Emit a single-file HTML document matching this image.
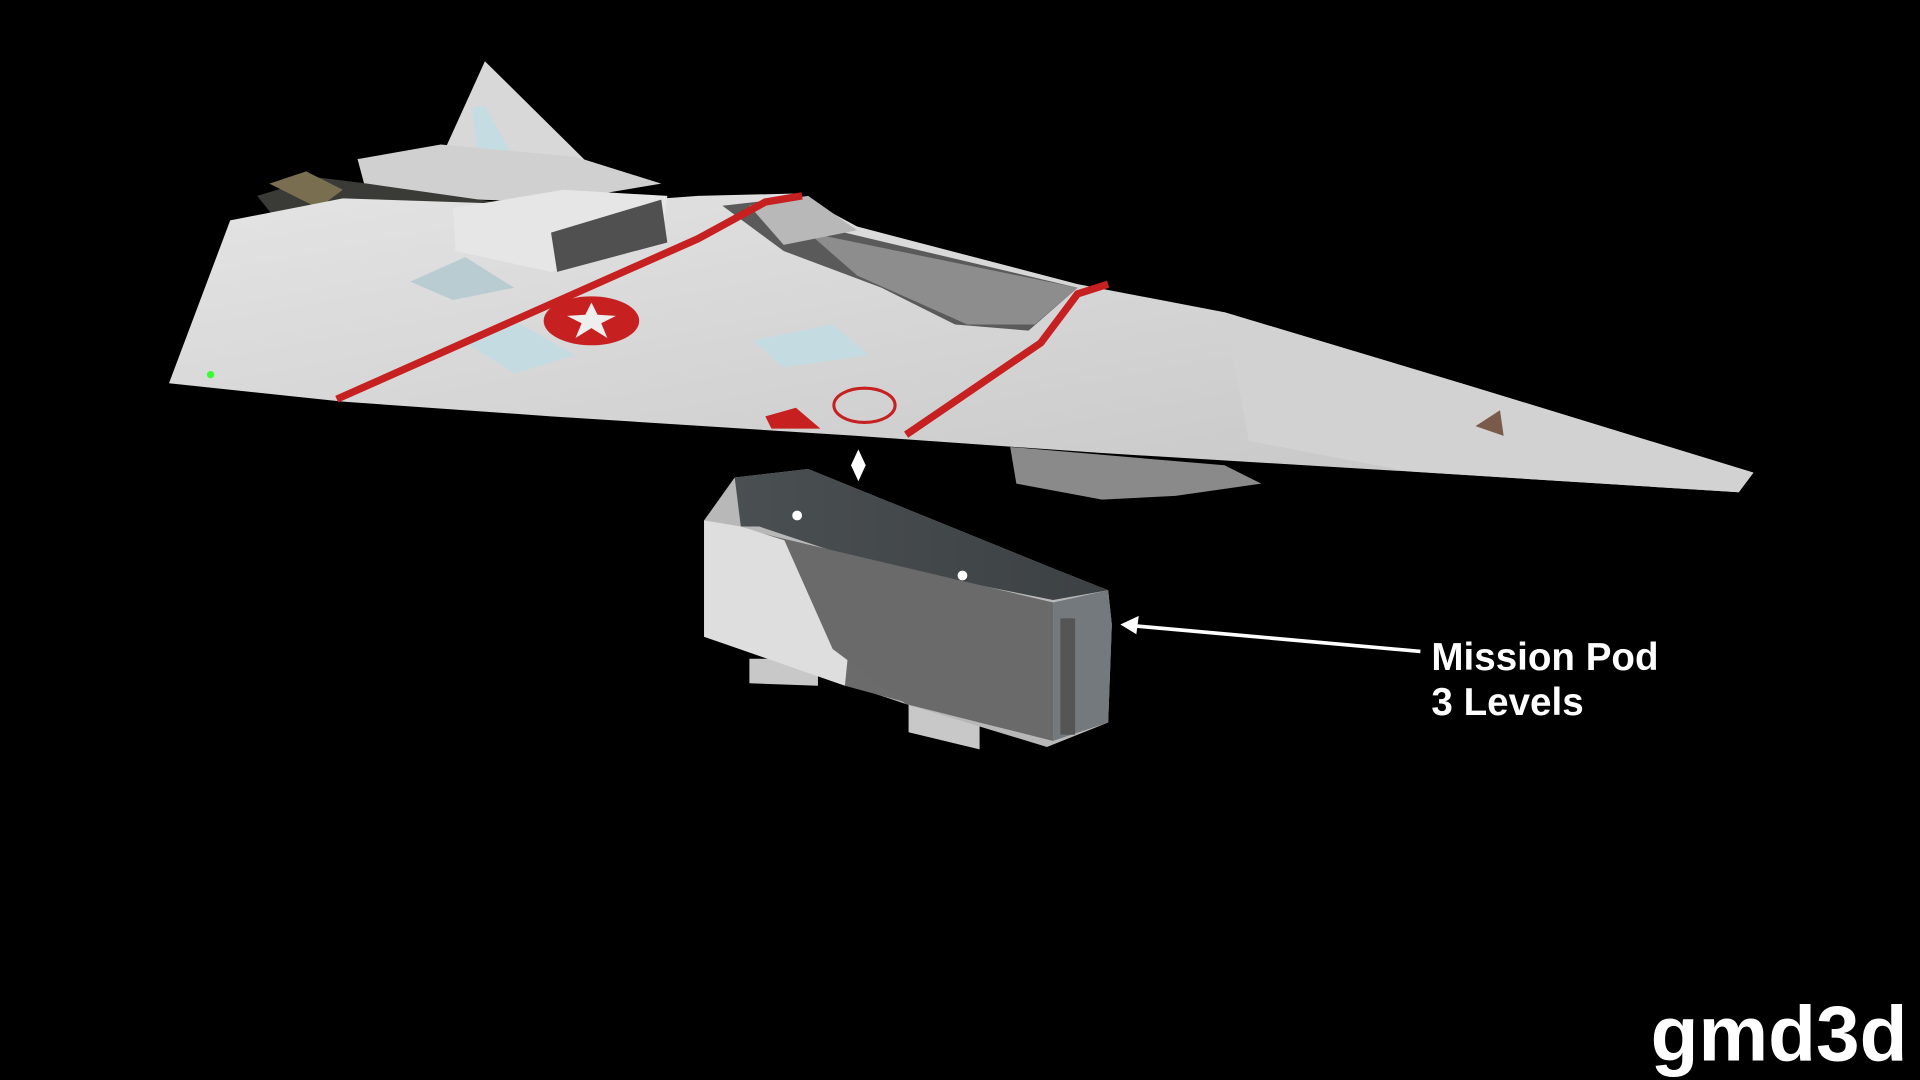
<!DOCTYPE html>
<html><head><meta charset="utf-8"><style>
html,body{margin:0;padding:0;background:#000;width:1920px;height:1080px;overflow:hidden}
svg{display:block}
text{font-family:"Liberation Sans",Arial,sans-serif;font-weight:bold;fill:#fff}
</style></head><body>
<svg width="1920" height="1080" viewBox="0 0 1568 882" xmlns="http://www.w3.org/2000/svg">
<defs>
<linearGradient id="g1" x1="0" y1="0" x2="1" y2="1"><stop offset="0" stop-color="#e4e4e4"/><stop offset="1" stop-color="#c4c4c4"/></linearGradient>
<linearGradient id="pt" x1="0" y1="0" x2="1" y2="0"><stop offset="0" stop-color="#4a4f52"/><stop offset="1" stop-color="#3c4144"/></linearGradient>
</defs>
<rect width="1568" height="882" fill="#000"/>
<polygon points="825,365 1000,380 1030,395 960,405 900,408 830,395" fill="#8a8a8a"/>
<polygon points="362,125 396,50 480,133 440,140" fill="#d8d8d8"/>
<polygon points="386,88 396,86 420,130 390,130" fill="#c5dce3"/>
<line x1="365" y1="124" x2="390" y2="124" stroke="#c02020" stroke-width="2"/>
<polygon points="292,130 360,118 470,128 540,150 450,165 300,160" fill="#d0d0d0"/>
<polygon points="210,160 260,145 300,150 440,170 450,220 330,210 230,185" fill="#3a3a36"/>
<polygon points="220,150 250,140 280,155 260,170" fill="#7a6e50"/>
<polygon points="138,313 188,180 280,162 460,168 570,160 650,158 700,185 880,232 1000,255 1200,315 1432,386 1420,402 1150,385 900,370 700,356 450,340 280,328" fill="url(#g1)"/>
<polygon points="370,170 460,155 545,160 540,200 450,222 372,205" fill="#e6e6e6"/>
<polygon points="450,190 540,163 545,198 455,222" fill="#505050"/>
<polygon points="590,168 660,160 690,190 880,235 840,270 780,265 720,235 640,205" fill="#5a5a5a"/>
<polygon points="660,190 880,235 845,265 790,265 700,225" fill="#8d8d8d"/>
<polygon points="612,168 660,160 700,188 640,200" fill="#b8b8b8"/>
<polygon points="1000,255 1200,315 1432,386 1420,402 1150,385 1020,360" fill="#d2d2d2"/>
<polygon points="1205,348 1225,335 1228,356" fill="#7a5a48"/>
<polygon points="380,280 420,262 470,290 420,305" fill="#c5dbe2"/>
<polygon points="615,278 680,265 710,290 640,300" fill="#c5dbe2"/>
<polygon points="335,230 380,210 420,235 370,245" fill="#b8ccd2"/>
<polyline points="275,326 570,195 625,165 655,160" fill="none" stroke="#c62020" stroke-width="6"/>
<polyline points="740,355 850,280 880,240 905,232" fill="none" stroke="#c62020" stroke-width="6"/>
<polygon points="625,340 650,333 670,350 630,350" fill="#c62020"/>
<ellipse cx="483" cy="262" rx="39" ry="20" fill="#c62020"/>
<polygon points="483,247 488,257 503,258 491,264 496,276 483,268 470,276 475,264 463,258 478,257" fill="#eee"/>
<ellipse cx="706" cy="331" rx="25" ry="14" fill="none" stroke="#c62020" stroke-width="2.5"/>
<circle cx="172" cy="306" r="3" fill="#3f3"/>
<polygon points="701,367 707,380 701,393 695,380" fill="#fff"/>
<polygon points="612,538 668,538 668,560 612,558" fill="#c8c8c8"/>
<polygon points="742,573 800,580 800,612 742,598" fill="#c8c8c8"/>
<polygon points="575,425 600,390 660,383 862,465 905,482 908,510 905,590 855,610 740,575 575,520" fill="#b8b8b8"/>
<polygon points="600,390 660,383 862,465 905,482 860,490 710,460 620,430 605,430" fill="url(#pt)"/>
<polygon points="575,425 600,430 640,440 700,460 860,492 860,605 800,590 690,560" fill="#6b6b6b"/>
<polygon points="575,425 605,430 700,460 690,560 575,520" fill="#dedede"/>
<polygon points="640,440 860,492 860,605 800,590 740,575 680,530" fill="#6a6a6a"/>
<polygon points="860,492 905,482 908,510 905,590 860,605" fill="#73797c"/>
<rect x="866" y="505" width="12" height="95" fill="#555"/>
<circle cx="651" cy="421" r="4" fill="#fff"/>
<circle cx="786" cy="470" r="4" fill="#fff"/>
<line x1="1160" y1="532" x2="925" y2="511" stroke="#fff" stroke-width="3"/>
<polygon points="915,510 930,503 928,518" fill="#fff"/>
<text x="1169" y="547" font-size="31.5">Mission Pod</text>
<text x="1169" y="584" font-size="31.5">3 Levels</text>
<text x="1348" y="866" font-size="64">gmd3d</text>
</svg>
</body></html>
